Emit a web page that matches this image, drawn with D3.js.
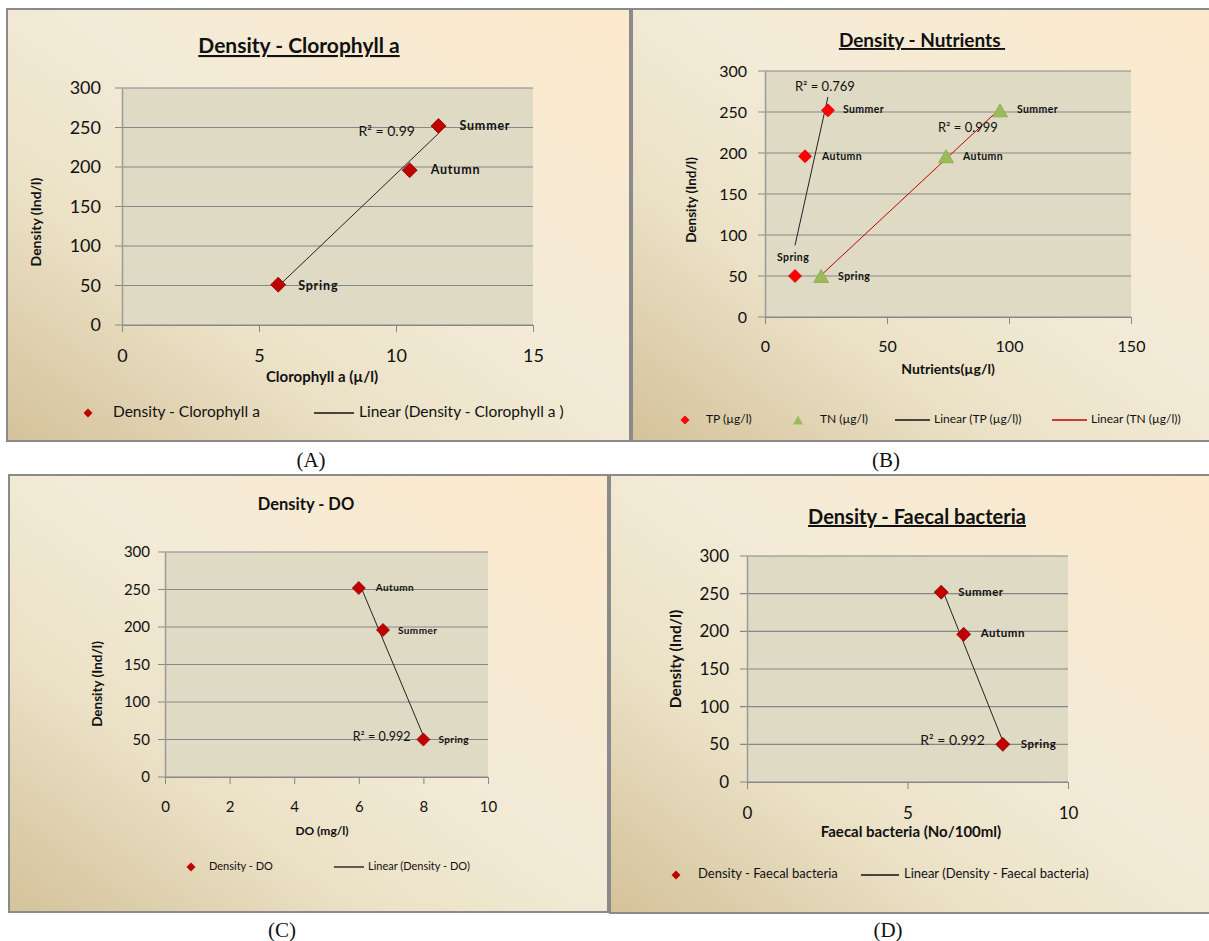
<!DOCTYPE html>
<html>
<head>
<meta charset="utf-8">
<script src="https://cdn.jsdelivr.net/npm/d3@7"></script>
<style>
  body { margin: 0; background: #ffffff; }
  text { font-family: Lato, "Open Sans", sans-serif; fill: #111; }
</style>
</head>
<body>
<script>
// data
var densTicks = [0, 50, 100, 150, 200, 250, 300];

var seasonsA = ["Spring", "Autumn", "Summer"];
var chlA = [5.7, 10.5, 11.55];
var densA = [51, 196, 252];
var xTicksA = [0, 5, 10, 15];

var seasonsB = ["Spring", "Autumn", "Summer"];
var tpB = [12.3, 16.4, 25.8];
var tnB = [23.0, 74.2, 96.3];
var densB = [50, 196, 252];
var xTicksB = [0, 50, 100, 150];

var seasonsC = ["Autumn", "Summer", "Spring"];
var doC = [6.0, 6.75, 8.0];
var densC = [252, 196, 50];
var xTicksC = [0, 2, 4, 6, 8, 10];

var seasonsD = ["Summer", "Autumn", "Spring"];
var fbD = [6.05, 6.75, 7.97];
var densD = [252, 196, 50];
var xTicksD = [0, 5, 10];

var width = 1209;
var height = 941;

var svg = d3.select("body").append("svg")
    .attr("width", width)
    .attr("height", height);

var defs = svg.append("defs");
var grad = defs.append("linearGradient")
    .attr("id", "bg")
    .attr("x1", 0).attr("y1", 1).attr("x2", 1).attr("y2", 0);
grad.append("stop").attr("offset", 0).attr("stop-color", "#d4c29a");
grad.append("stop").attr("offset", 0.3).attr("stop-color", "#ebe1c6");
grad.append("stop").attr("offset", 0.55).attr("stop-color", "#f3ebd7");
grad.append("stop").attr("offset", 1).attr("stop-color", "#fde9cc");

function zip(xs, ys, names) {
  return xs.map(function(v, i) { return {x: v, y: ys[i], name: names[i]}; });
}

// least squares line, like the Excel trendline
function fit(pts) {
  var mx = d3.mean(pts, function(d) { return d.x; });
  var my = d3.mean(pts, function(d) { return d.y; });
  var sxy = d3.sum(pts, function(d) { return (d.x - mx) * (d.y - my); });
  var sxx = d3.sum(pts, function(d) { return (d.x - mx) * (d.x - mx); });
  var b = sxy / sxx;
  return function(v) { return my + b * (v - mx); };
}

function diamond(r) {
  return "M0," + (-r) + "L" + r + ",0L0," + r + "L" + (-r) + ",0Z";
}
function triangle(w, h) {
  return "M0," + (-h / 2) + "L" + (w / 2) + "," + (h / 2) + "L" + (-w / 2) + "," + (h / 2) + "Z";
}

function drawPanel(p) {
  var g = svg.append("g");

  g.append("rect")
      .attr("x", p.frame[0]).attr("y", p.frame[1])
      .attr("width", p.frame[2]).attr("height", p.frame[3])
      .attr("fill", "url(#bg)")
      .attr("stroke", "#8a8a8a")
      .attr("stroke-width", 2);

  var x = d3.scaleLinear().domain([p.xTicks[0], p.xTicks[p.xTicks.length - 1]])
      .range([p.plot.left, p.plot.right]);
  var y = d3.scaleLinear().domain([0, 300]).range([p.plot.bottom, p.plot.top]);

  g.append("rect")
      .attr("x", p.plot.left).attr("y", p.plot.top)
      .attr("width", p.plot.right - p.plot.left)
      .attr("height", p.plot.bottom - p.plot.top)
      .attr("fill", "#dfdac3");

  // horizontal gridlines
  g.selectAll(".grid").data(densTicks).enter().append("line")
      .attr("x1", p.plot.left - 7).attr("x2", p.plot.right)
      .attr("y1", function(d) { return y(d); })
      .attr("y2", function(d) { return y(d); })
      .attr("stroke", "#878787").attr("stroke-width", 1.2);

  // y axis
  var yAxis = g.append("g")
      .attr("transform", "translate(" + p.plot.left + ",0)")
      .call(d3.axisLeft(y).tickValues(densTicks).tickSize(0).tickPadding(p.yPad));
  yAxis.select(".domain").attr("stroke", "#9a9a9a").attr("stroke-width", 1.5);
  yAxis.selectAll("text").style("font-size", p.tickSize + "px").attr("fill", "#222");

  // x axis
  var xAxis = g.append("g")
      .attr("transform", "translate(0," + p.plot.bottom + ")")
      .call(d3.axisBottom(x).tickValues(p.xTicks).tickSize(7).tickPadding(p.xPad).tickSizeOuter(0));
  xAxis.select(".domain").attr("stroke", "#878787").attr("stroke-width", 1.2);
  xAxis.selectAll("line").attr("stroke", "#878787");
  xAxis.selectAll("text").style("font-size", p.tickSize + "px").attr("fill", "#222");

  // titles
  var t = g.append("text")
      .attr("x", p.title[0]).attr("y", p.title[1])
      .attr("text-anchor", "middle")
      .style("font-size", p.titleSize + "px")
      .style("font-weight", "bold")
      .text(p.titleText);
  if (p.underline) t.style("text-decoration", "underline");

  g.append("text")
      .attr("transform", "translate(" + p.yTitle[0] + "," + p.yTitle[1] + ") rotate(-90)")
      .attr("text-anchor", "middle")
      .attr("dominant-baseline", "middle")
      .style("font-size", p.yTitleSize + "px")
      .style("font-weight", "bold")
      .text("Density (Ind/l)");

  g.append("text")
      .attr("x", p.xTitle[0]).attr("y", p.xTitle[1])
      .attr("text-anchor", "middle")
      .attr("dominant-baseline", "middle")
      .style("font-size", p.xTitleSize + "px")
      .style("font-weight", "bold")
      .text(p.xTitleText);

  // series: trendline, markers, season labels, R²
  p.series.forEach(function(s) {
    var f = fit(s.pts);
    var ext = d3.extent(s.pts, function(d) { return d.x; });
    g.append("line")
        .attr("x1", x(ext[0])).attr("y1", y(f(ext[0])))
        .attr("x2", x(ext[1])).attr("y2", y(f(ext[1])))
        .attr("stroke", s.lineColor).attr("stroke-width", 1);

    g.selectAll(null).data(s.pts).enter().append("path")
        .attr("d", s.shape)
        .attr("transform", function(d) { return "translate(" + x(d.x) + "," + y(d.y) + ")"; })
        .attr("fill", s.color)
        .attr("stroke", s.stroke).attr("stroke-width", 0.8);

    g.selectAll(null).data(s.pts).enter().append("text")
        .attr("x", function(d, i) { return x(d.x) + s.labelOff[i][0]; })
        .attr("y", function(d, i) { return y(d.y) + s.labelOff[i][1]; })
        .attr("dominant-baseline", "middle")
        .style("font-size", p.labelSize + "px")
        .style("font-weight", "bold")
        .style("letter-spacing", p.labelSpacing + "px")
        .attr("fill", "#222")
        .text(function(d) { return d.name; });

    var a = s.pts[s.r2.at];
    g.append("text")
        .attr("x", x(a.x) + s.r2.dx)
        .attr("y", y(a.y) + s.r2.dy)
        .attr("text-anchor", s.r2.anchor)
        .attr("dominant-baseline", "middle")
        .style("font-size", p.r2Size + "px")
        .attr("fill", "#222")
        .text(s.r2.text);
  });

  // legend
  p.legend.forEach(function(l) {
    if (l.kind === "line") {
      g.append("line")
          .attr("x1", l.x).attr("x2", l.x2)
          .attr("y1", p.legendY).attr("y2", p.legendY)
          .attr("stroke", l.color).attr("stroke-width", 1.3);
    } else {
      g.append("path")
          .attr("d", l.kind === "tri" ? triangle(10, 9) : diamond(4.5))
          .attr("transform", "translate(" + l.x + "," + p.legendY + ")")
          .attr("fill", l.color);
    }
    g.append("text")
        .attr("x", l.tx).attr("y", p.legendY)
        .attr("dominant-baseline", "middle")
        .style("font-size", p.legendSize + "px")
        .attr("fill", "#222")
        .text(l.text);
  });
}

var darkRed = "#c00000";

drawPanel({
  frame: [7, 9, 623, 432],
  plot: {left: 122, right: 533, top: 88, bottom: 325},
  xTicks: xTicksA, yPad: 21, xPad: 17, tickSize: 18,
  title: [299, 53], titleText: "Density - Clorophyll a", titleSize: 21, underline: true,
  yTitle: [37, 222], xTitle: [322, 378], xTitleText: "Clorophyll a (\u00b5/l)",
  xTitleSize: 15, yTitleSize: 14,
  labelSize: 12.5, labelSpacing: 0.8, r2Size: 14,
  series: [{
    pts: zip(chlA, densA, seasonsA), shape: diamond(7.5), color: darkRed, stroke: "#900000",
    lineColor: "#222",
    labelOff: [[20, 2], [21, 1], [21, 1]],
    r2: {at: 2, dx: -80, dy: 7, anchor: "start", text: "R\u00b2 = 0.99"}
  }],
  legendY: 413, legendSize: 15.5,
  legend: [
    {kind: "diamond", x: 88, tx: 113, color: darkRed, text: "Density - Clorophyll a"},
    {kind: "line", x: 314, x2: 354, tx: 359, color: "#111", text: "Linear (Density - Clorophyll a )"}
  ]
});

drawPanel({
  frame: [632, 9, 600, 432],
  plot: {left: 765, right: 1131, top: 71, bottom: 317},
  xTicks: xTicksB, yPad: 18, xPad: 17, tickSize: 16,
  title: [922, 47], titleText: "Density - Nutrients\u00a0", titleSize: 19, underline: true,
  yTitle: [693, 200], xTitle: [948, 370], xTitleText: "Nutrients(\u00b5g/l)",
  xTitleSize: 14, yTitleSize: 13.5,
  labelSize: 10.5, labelSpacing: 0.4, r2Size: 13,
  series: [{
    pts: zip(tpB, densB, seasonsB), shape: diamond(6.5), color: "#ff0000", stroke: "#e00000",
    lineColor: "#222",
    labelOff: [[-18, -18], [17, 1], [15, 0]],
    r2: {at: 2, dx: -33, dy: -23, anchor: "start", text: "R\u00b2 = 0.769"}
  }, {
    pts: zip(tnB, densB, seasonsB), shape: triangle(15, 13), color: "#9bbb59", stroke: "#8aab4a",
    lineColor: "#c00000",
    labelOff: [[17, 1], [17, 1], [17, 0]],
    r2: {at: 2, dx: -62, dy: 18, anchor: "start", text: "R\u00b2 = 0.999"}
  }],
  legendY: 420, legendSize: 12,
  legend: [
    {kind: "diamond", x: 685, tx: 706, color: "#ff0000", text: "TP (\u00b5g/l)"},
    {kind: "tri", x: 798, tx: 820, color: "#9bbb59", text: "TN (\u00b5g/l)"},
    {kind: "line", x: 895, x2: 930, tx: 934, color: "#111", text: "Linear (TP (\u00b5g/l))"},
    {kind: "line", x: 1052, x2: 1087, tx: 1091, color: "#c00000", text: "Linear (TN (\u00b5g/l))"}
  ]
});

drawPanel({
  frame: [9, 475, 599, 437],
  plot: {left: 165, right: 488, top: 552, bottom: 777},
  xTicks: xTicksC, yPad: 15, xPad: 17, tickSize: 15,
  title: [306, 510], titleText: "Density - DO", titleSize: 16.5, underline: false,
  yTitle: [99, 684], xTitle: [322, 832], xTitleText: "DO (mg/l)",
  xTitleSize: 12, yTitleSize: 13.5,
  labelSize: 10, labelSpacing: 0.4, r2Size: 12.5,
  series: [{
    pts: zip(doC, densC, seasonsC), shape: diamond(6.5), color: darkRed, stroke: "#900000",
    lineColor: "#222",
    labelOff: [[17, 0], [15, 1], [15, 1]],
    r2: {at: 2, dx: -13, dy: -2, anchor: "end", text: "R\u00b2 = 0.992"}
  }],
  legendY: 867, legendSize: 11,
  legend: [
    {kind: "diamond", x: 191, tx: 209, color: darkRed, text: "Density - DO"},
    {kind: "line", x: 334, x2: 364, tx: 368, color: "#111", text: "Linear (Density - DO)"}
  ]
});

drawPanel({
  frame: [610, 475, 602, 438],
  plot: {left: 747, right: 1068, top: 556, bottom: 782},
  xTicks: xTicksD, yPad: 18, xPad: 18, tickSize: 17,
  title: [917, 524], titleText: "Density - Faecal bacteria", titleSize: 20, underline: true,
  yTitle: [677, 659], xTitle: [911, 833], xTitleText: "Faecal bacteria (No/100ml)",
  xTitleSize: 15, yTitleSize: 15.5,
  labelSize: 11.5, labelSpacing: 0.5, r2Size: 14,
  series: [{
    pts: zip(fbD, densD, seasonsD), shape: diamond(7), color: darkRed, stroke: "#900000",
    lineColor: "#222",
    labelOff: [[17, 1], [17, 0], [18, 1]],
    r2: {at: 2, dx: -18, dy: -3, anchor: "end", text: "R\u00b2 = 0.992"}
  }],
  legendY: 875, legendSize: 13,
  legend: [
    {kind: "diamond", x: 676, tx: 698, color: darkRed, text: "Density - Faecal bacteria"},
    {kind: "line", x: 861, x2: 899, tx: 904, color: "#111", text: "Linear (Density - Faecal bacteria)"}
  ]
});

// panel captions
var captions = ["(A)", "(B)", "(C)", "(D)"];
var capPos = [[311, 467], [886, 467], [282, 937], [888, 937]];
svg.selectAll(".cap").data(captions).enter().append("text")
    .attr("x", function(d, i) { return capPos[i][0]; })
    .attr("y", function(d, i) { return capPos[i][1]; })
    .attr("text-anchor", "middle")
    .style("font-family", "'Liberation Serif', 'DejaVu Serif', serif")
    .style("font-size", "21px")
    .text(function(d) { return d; });
</script>
</body>
</html>
